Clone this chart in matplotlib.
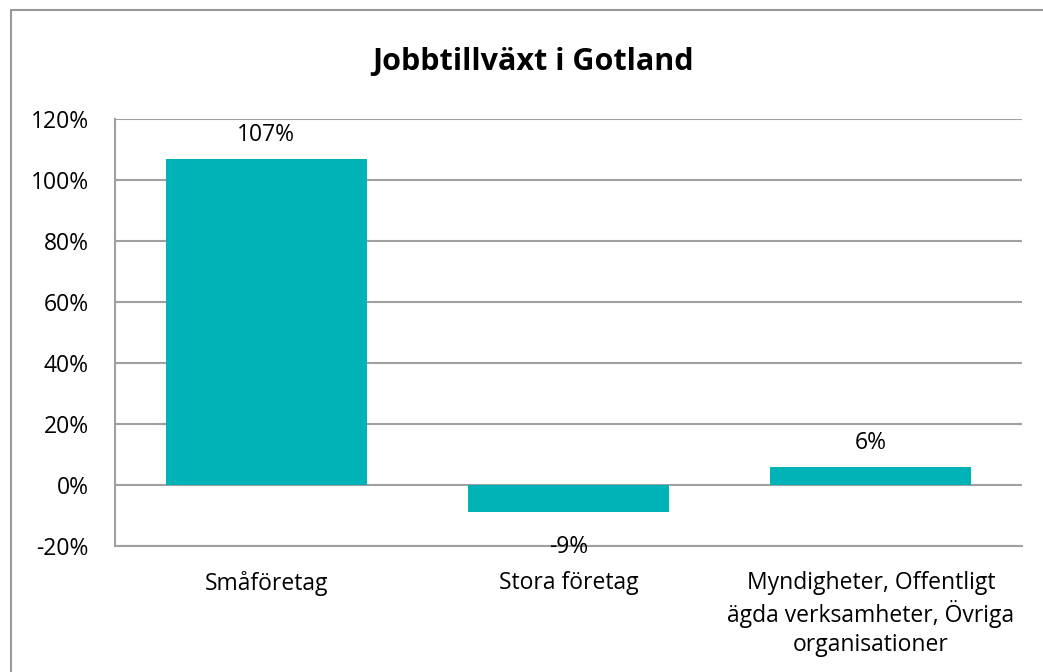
import matplotlib.pyplot as plt
import matplotlib.patches as patches

# Data
categories = ['Småföretag', 'Stora företag',
              'Myndigheter, Offentligt\nägda verksamheter, Övriga\norganisationer']
values = [107, -9, 6]
labels = ['107%', '-9%', '6%']
yticks = [-20, 0, 20, 40, 60, 80, 100, 120]

plt.rcParams['font.family'] = ['Open Sans', 'DejaVu Sans']

fig = plt.figure(figsize=(10.43, 6.72), dpi=100)
W, H = 1043, 672
ax = fig.add_axes([115 / W, 1 - 546 / H, (1022 - 115) / W, (546 - 119) / H])

bar_color = '#00B3B7'
grid_color = '#A0A0A0'
fs = 16.5

x = range(len(categories))
ax.bar(x, values, width=0.665, color=bar_color, zorder=3)

ax.set_xlim(-0.5, 2.5)
ax.set_ylim(-20, 120)
ax.set_yticks(yticks)
ax.set_yticklabels([f'{t}%' for t in yticks], fontsize=fs)
ax.set_xticks(list(x))
ax.set_xticklabels(categories, fontsize=fs, linespacing=1.25)
ax.tick_params(axis='both', length=0)
ax.tick_params(axis='y', pad=19)
ax.tick_params(axis='x', pad=18)

ax.grid(axis='y', color=grid_color, linewidth=1.5, zorder=0)
for side in ['top', 'right']:
    ax.spines[side].set_visible(False)
for side in ['left', 'bottom']:
    ax.spines[side].set_color(grid_color)
    ax.spines[side].set_linewidth(1.5)

# Data labels
for i, v in enumerate(values):
    dy = 17 if v >= 0 else -25
    ax.annotate(labels[i], (i, v), xytext=(0, dy), textcoords='offset points',
                ha='center', va='center', fontsize=fs)

fig.text(533 / W, 1 - 62 / H, 'Jobbtillväxt i Gotland', ha='center', va='center',
         fontsize=22, fontweight='bold')

# Outer chart frame
frame = patches.Rectangle((11 / W, -0.1), 1.2, 1 - 10 / H + 0.1, transform=fig.transFigure,
                          fill=False, edgecolor='#999999', linewidth=1.5)
fig.patches.append(frame)

fig.savefig('out.png', dpi=100)
